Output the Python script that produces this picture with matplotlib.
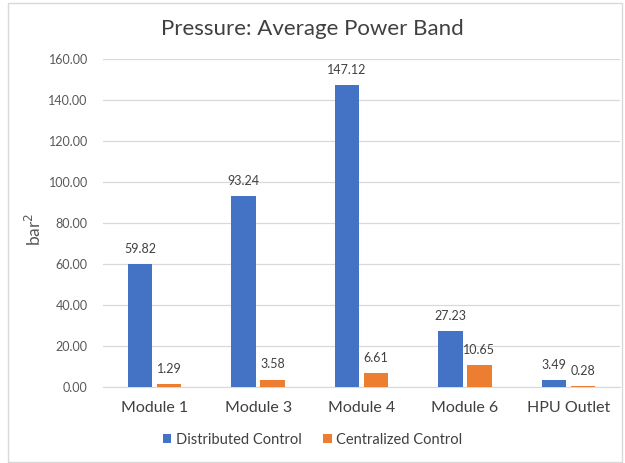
import matplotlib
matplotlib.use("Agg")
import matplotlib.pyplot as plt
import numpy as np

categories = ["Module 1", "Module 3", "Module 4", "Module 6", "HPU Outlet"]
distributed = [59.82, 93.24, 147.12, 27.23, 3.49]
centralized = [1.29, 3.58, 6.61, 10.65, 0.28]
yticks = [0, 20, 40, 60, 80, 100, 120, 140, 160]

blue = "#4472C4"
orange = "#ED7D31"
grey = "#595959"

plt.rcParams["font.family"] = ["Lato", "DejaVu Sans"]

fig = plt.figure(figsize=(6.25, 4.63), dpi=100)
ax = fig.add_axes([103 / 625, 1 - 387 / 463, 517 / 625, 328 / 463])

# light frame round the whole chart
fig.patches.append(plt.Rectangle((8 / 625, 1 / 463), 614 / 625, 459 / 463,
                                 transform=fig.transFigure, fill=False,
                                 edgecolor="#D9D9D9", linewidth=1))

x = np.arange(len(categories))
w = 0.235
off = 0.14
b1 = ax.bar(x - off, distributed, w, color=blue, label="Distributed Control", zorder=3)
b2 = ax.bar(x + off, centralized, w, color=orange, label="Centralized Control", zorder=3)

for bars, vals in ((b1, distributed), (b2, centralized)):
    for r, v in zip(bars, vals):
        ax.text(r.get_x() + r.get_width() / 2, v + 4.5, f"{v:.2f}",
                ha="center", va="bottom", fontsize=9, color="#404040")

ax.set_xlim(-0.5, len(categories) - 0.5)
ax.set_ylim(0, 160)
ax.set_yticks(yticks)
ax.set_yticklabels([f"{t:.2f}" for t in yticks])
ax.set_xticks(x)
ax.set_xticklabels(categories)
ax.grid(axis="y", color="#D9D9D9", linewidth=0.9, zorder=0)
for s in ["top", "right", "left"]:
    ax.spines[s].set_visible(False)
ax.spines["bottom"].set_color("#D9D9D9")
ax.tick_params(axis="y", length=0, labelsize=9, labelcolor=grey, pad=11)
ax.tick_params(axis="x", length=0, labelsize=11.5, labelcolor="#404040", pad=10)

ax.set_ylabel("bar$^2$", fontsize=12.5, color=grey)
ax.yaxis.set_label_coords(-0.115, 0.48)

fig.text(0.5, 1 - 29 / 463, "Pressure: Average Power Band", ha="center",
         va="center", fontsize=16, color="#404040")

fig.legend(handles=[b1, b2], loc="center", bbox_to_anchor=(0.5, 1 - 440 / 463),
           ncol=2, frameon=False, fontsize=10.5, handlelength=0.6, handleheight=0.6,
           handletextpad=0.3, columnspacing=1.5, labelcolor="#404040")

fig.savefig("out.png", dpi=100)
